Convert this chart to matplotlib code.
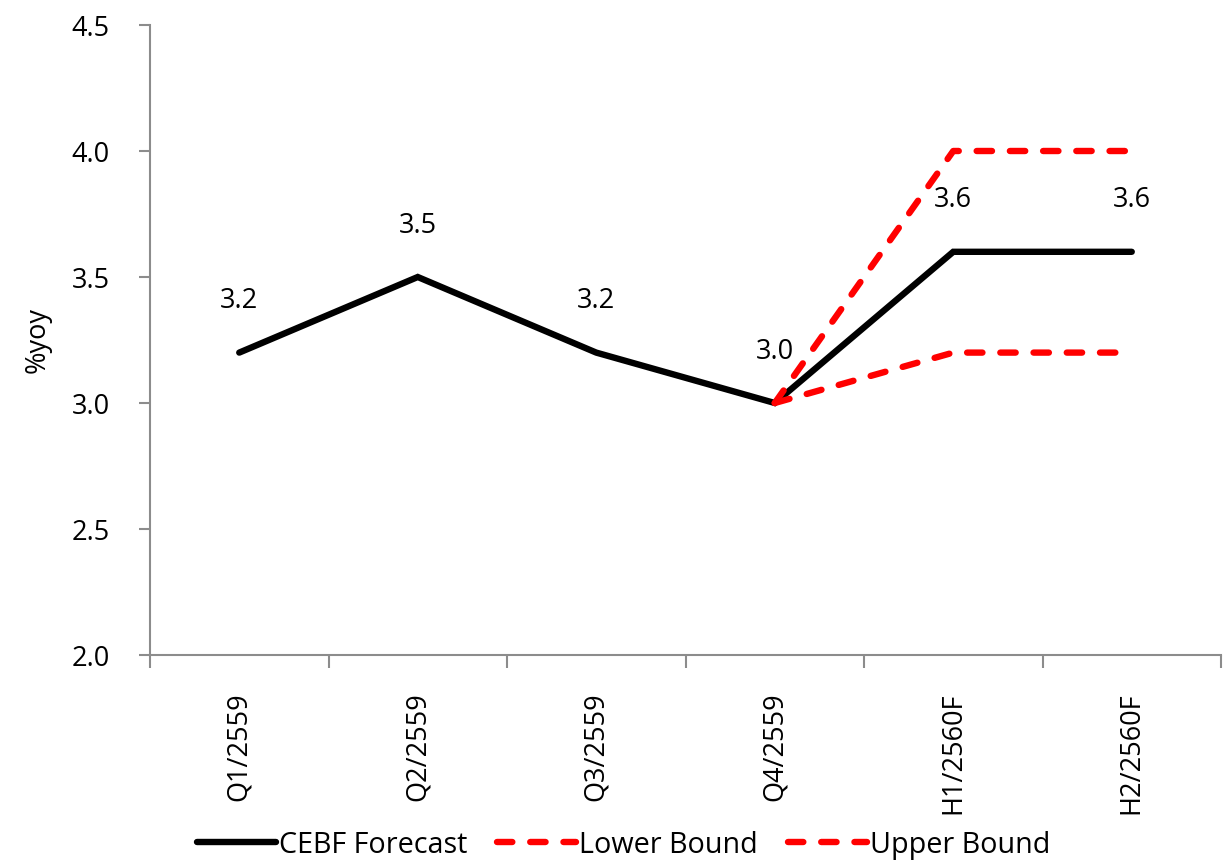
import matplotlib
matplotlib.use("Agg")
import matplotlib.pyplot as plt
from matplotlib.ticker import FixedLocator, NullFormatter

plt.rcParams['font.family'] = ['Open Sans', 'DejaVu Sans']

categories = ["Q1/2559", "Q2/2559", "Q3/2559", "Q4/2559", "H1/2560F", "H2/2560F"]
forecast = [3.2, 3.5, 3.2, 3.0, 3.6, 3.6]
lower_idx = [3, 4, 5]
lower = [3.0, 3.2, 3.2]
upper_idx = [3, 4, 5]
upper = [3.0, 4.0, 4.0]
yticks = [2.0, 2.5, 3.0, 3.5, 4.0, 4.5]

FS = 19.5
fig = plt.figure(figsize=(12.3, 8.63), dpi=100)
ax = fig.add_axes([150/1230, 1-655/863, (1221-150)/1230, (655-25)/863])

x = list(range(len(categories)))
ax.plot(x, forecast, color='black', lw=4.6, solid_capstyle='round',
        solid_joinstyle='miter', label='CEBF Forecast', zorder=3)
ax.plot(lower_idx, lower, color='#ff0000', lw=4.6, dashes=(2.4, 2.8),
        dash_capstyle='round', label='Lower Bound', zorder=4)
ax.plot(upper_idx, upper, color='#ff0000', lw=4.6, dashes=(2.4, 2.8),
        dash_capstyle='round', label='Upper Bound', zorder=4)

for xi, v in zip(x, forecast):
    ax.annotate(f"{v:.1f}", (xi, v), xytext=(0, 37), textcoords='offset points',
                ha='center', va='center', fontsize=FS, zorder=5)

ax.set_xlim(-0.5, len(categories) - 0.5)
ax.set_ylim(2.0, 4.5)
ax.set_yticks(yticks)
ax.set_yticklabels([f"{t:.1f}" for t in yticks], fontsize=FS)

ax.xaxis.set_major_locator(FixedLocator([i - 0.5 for i in range(len(categories) + 1)]))
ax.xaxis.set_major_formatter(NullFormatter())
ax.xaxis.set_minor_locator(FixedLocator(x))
ax.set_xticklabels(categories, minor=True, rotation=90, fontsize=FS)

spine_c = '#8c8c8c'
for s in ['top', 'right']:
    ax.spines[s].set_visible(False)
for s in ['left', 'bottom']:
    ax.spines[s].set_color(spine_c)
    ax.spines[s].set_linewidth(1.5)

ax.tick_params(axis='y', which='major', length=8, width=1.5, color=spine_c, pad=21)
ax.tick_params(axis='x', which='major', length=9, width=1.5, color=spine_c)
ax.tick_params(axis='x', which='minor', length=0, pad=27)

ax.set_ylabel('%yoy', fontsize=FS, labelpad=14)

fig.legend(loc='center', bbox_to_anchor=(0.507, 1-845/863), ncol=3, frameon=False,
           fontsize=20.7, handlelength=2.75, handletextpad=0.1, columnspacing=1.05,
           borderpad=0, borderaxespad=0)

fig.savefig('out.png', dpi=100)
